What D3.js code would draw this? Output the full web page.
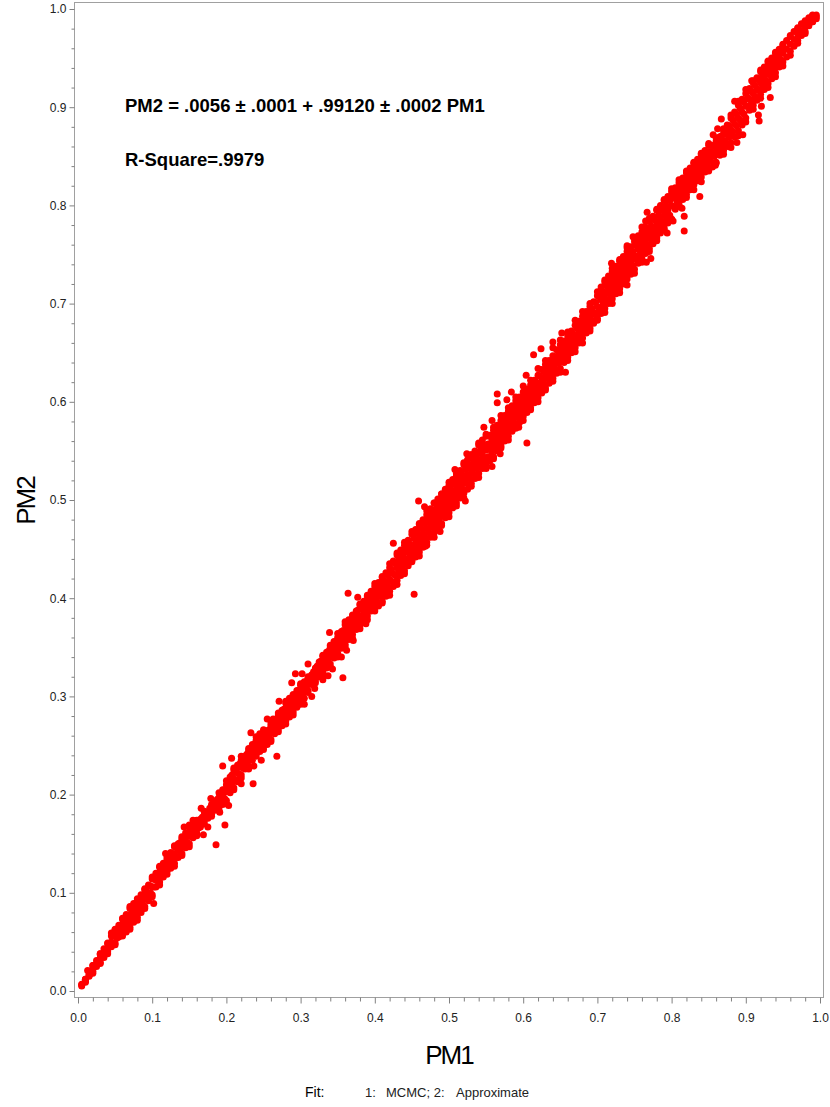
<!DOCTYPE html>
<html>
<head>
<meta charset="utf-8">
<script src="https://cdn.jsdelivr.net/npm/d3@7"></script>
<style>
  body { margin: 0; background: #fff; }
  text { font-family: "Liberation Sans", Arial, sans-serif; }
</style>
</head>
<body>
<svg width="830" height="1107"></svg>
<script>
// tick labels
const majorTicks = [0, 0.1, 0.2, 0.3, 0.4, 0.5, 0.6, 0.7, 0.8, 0.9, 1.0];
const minorTicks = [0.02, 0.04, 0.06, 0.08, 0.12, 0.14, 0.16, 0.18, 0.22, 0.24, 0.26, 0.28, 0.32, 0.34, 0.36, 0.38,
  0.42, 0.44, 0.46, 0.48, 0.52, 0.54, 0.56, 0.58, 0.62, 0.64, 0.66, 0.68, 0.72, 0.74, 0.76, 0.78,
  0.82, 0.84, 0.86, 0.88, 0.92, 0.94, 0.96, 0.98];

const bandPm1 = [
  .005,.010,.015,.020,.025,.030,.035,.040,.045,.050, .055,.060,.065,.070,.075,.080,.085,.090,.095,.100,
  .105,.110,.115,.120,.125,.130,.135,.140,.145,.150, .155,.160,.165,.170,.175,.180,.185,.190,.195,.200,
  .205,.210,.215,.220,.225,.230,.235,.240,.245,.250, .255,.260,.265,.270,.275,.280,.285,.290,.295,.300,
  .305,.310,.315,.320,.325,.330,.335,.340,.345,.350, .355,.360,.365,.370,.375,.380,.385,.390,.395,.400,
  .405,.410,.415,.420,.425,.430,.435,.440,.445,.450, .455,.460,.465,.470,.475,.480,.485,.490,.495,.500,
  .505,.510,.515,.520,.525,.530,.535,.540,.545,.550, .555,.560,.565,.570,.575,.580,.585,.590,.595,.600,
  .605,.610,.615,.620,.625,.630,.635,.640,.645,.650, .655,.660,.665,.670,.675,.680,.685,.690,.695,.700,
  .705,.710,.715,.720,.725,.730,.735,.740,.745,.750, .755,.760,.765,.770,.775,.780,.785,.790,.795,.800,
  .805,.810,.815,.820,.825,.830,.835,.840,.845,.850, .855,.860,.865,.870,.875,.880,.885,.890,.895,.900,
  .905,.910,.915,.920,.925,.930,.935,.940,.945,.950, .955,.960,.965,.970,.975,.980,.985,.990,.995];
const bandHigh = [
  .007,.012,.017,.026,.031,.037,.043,.048,.056,.062, .067,.073,.078,.084,.089,.092,.098,.103,.108,.114,
  .120,.126,.130,.134,.141,.147,.150,.155,.161,.167, .170,.172,.175,.179,.182,.188,.192,.197,.205,.210,
  .218,.225,.230,.235,.239,.245,.251,.255,.262,.264, .265,.270,.276,.281,.286,.293,.298,.301,.306,.311,
  .315,.318,.322,.328,.335,.341,.345,.350,.356,.360, .366,.373,.378,.382,.387,.393,.397,.402,.407,.412,
  .416,.421,.426,.431,.438,.444,.449,.454,.459,.465, .470,.475,.480,.485,.491,.497,.501,.506,.511,.515,
  .521,.525,.530,.536,.541,.546,.550,.556,.561,.565, .566,.571,.576,.581,.586,.590,.596,.601,.605,.610,
  .613,.617,.622,.627,.633,.638,.642,.647,.653,.658, .662,.667,.672,.678,.682,.687,.692,.697,.702,.708,
  .717,.722,.728,.733,.738,.743,.748,.753,.758,.763, .769,.773,.778,.784,.789,.795,.800,.805,.809,.814,
  .818,.823,.828,.833,.838,.843,.847,.852,.856,.861, .861,.865,.870,.876,.882,.889,.895,.902,.908,.914,
  .919,.925,.930,.936,.941,.946,.950,.955,.959,.964, .968,.972,.977,.981,.985,.988,.991,.994,.994];
const bandMid = [
  .006,.011,.016,.023,.028,.033,.038,.043,.050,.056, .061,.065,.070,.074,.079,.084,.089,.094,.099,.106,
  .113,.118,.123,.128,.133,.138,.143,.148,.153,.158, .162,.167,.171,.175,.179,.184,.189,.193,.198,.203,
  .210,.216,.222,.228,.233,.238,.243,.248,.252,.256, .258,.263,.268,.273,.278,.283,.288,.292,.297,.302,
  .307,.312,.317,.322,.327,.332,.337,.342,.347,.352, .357,.362,.367,.372,.377,.382,.387,.392,.397,.402,
  .404,.409,.414,.419,.425,.431,.436,.441,.447,.452, .456,.461,.466,.471,.476,.481,.486,.491,.496,.501,
  .506,.511,.516,.521,.526,.531,.536,.541,.546,.551, .553,.558,.563,.568,.573,.578,.583,.588,.593,.598,
  .601,.606,.611,.616,.621,.626,.631,.636,.641,.646, .651,.656,.661,.666,.671,.676,.681,.686,.691,.697,
  .704,.709,.714,.719,.724,.729,.734,.739,.744,.749, .755,.760,.765,.770,.775,.780,.785,.790,.795,.800,
  .807,.812,.817,.822,.827,.832,.836,.840,.845,.849, .850,.855,.861,.866,.872,.877,.883,.889,.895,.901,
  .908,.914,.919,.925,.930,.935,.940,.945,.950,.955, .959,.964,.969,.974,.978,.982,.987,.990,.992];
const bandLow = [
  .005,.010,.015,.020,.025,.029,.034,.040,.045,.049, .055,.058,.060,.065,.070,.075,.080,.086,.092,.098,
  .106,.111,.116,.122,.125,.130,.136,.140,.146,.150, .156,.161,.167,.171,.176,.180,.184,.187,.190,.194,
  .202,.207,.213,.220,.226,.229,.235,.241,.244,.249, .251,.256,.262,.267,.270,.275,.279,.284,.289,.294,
  .298,.306,.312,.317,.320,.324,.329,.333,.339,.344, .349,.353,.358,.363,.368,.373,.378,.382,.387,.391,
  .392,.397,.402,.407,.412,.418,.423,.428,.433,.439, .442,.447,.452,.457,.462,.467,.472,.476,.482,.487,
  .492,.497,.502,.507,.511,.517,.522,.527,.532,.537, .540,.544,.550,.555,.560,.565,.570,.575,.579,.585,
  .589,.594,.599,.604,.609,.614,.619,.624,.629,.634, .640,.645,.650,.655,.660,.665,.670,.675,.680,.685,
  .690,.695,.700,.705,.710,.715,.720,.725,.730,.735, .741,.746,.751,.756,.761,.767,.772,.777,.782,.786,
  .796,.801,.806,.811,.816,.821,.825,.829,.834,.838, .839,.844,.851,.856,.860,.864,.870,.876,.882,.889,
  .897,.902,.907,.913,.918,.924,.929,.935,.941,.946, .951,.957,.962,.968,.973,.977,.983,.987,.990];

// rows between those, half a column along
const innerPm1 = [
  .0525,.0575,.0625,.0675,.0725,.0775,.0825,.0875,.0925,.0975, .1025,.1075,.1125,.1175,.1225,.1275,.1325,.1375,.1425,.1475,
  .1525,.1575,.1625,.1675,.1725,.1775,.1825,.1875,.1925,.1975, .2025,.2075,.2125,.2175,.2225,.2275,.2325,.2375,.2425,.2475,
  .2525,.2575,.2625,.2675,.2725,.2775,.2825,.2875,.2925,.2975, .3025,.3075,.3125,.3175,.3225,.3275,.3325,.3375,.3425,.3475,
  .3525,.3575,.3625,.3675,.3725,.3775,.3825,.3875,.3925,.3975, .4025,.4075,.4125,.4175,.4225,.4275,.4325,.4375,.4425,.4475,
  .4525,.4575,.4625,.4675,.4725,.4775,.4825,.4875,.4925,.4975, .5025,.5075,.5125,.5175,.5225,.5275,.5325,.5375,.5425,.5475,
  .5525,.5575,.5625,.5675,.5725,.5775,.5825,.5875,.5925,.5975, .6025,.6075,.6125,.6175,.6225,.6275,.6325,.6375,.6425,.6475,
  .6525,.6575,.6625,.6675,.6725,.6775,.6825,.6875,.6925,.6975, .7025,.7075,.7125,.7175,.7225,.7275,.7325,.7375,.7425,.7475,
  .7525,.7575,.7625,.7675,.7725,.7775,.7825,.7875,.7925,.7975, .8025,.8075,.8125,.8175,.8225,.8275,.8325,.8375,.8425,.8475,
  .8525,.8575,.8625,.8675,.8725,.8775,.8825,.8875,.8925,.8975, .9025,.9075,.9125,.9175,.9225,.9275,.9325,.9375,.9425,.9475];
const innerUpper = [
  .062,.067,.072,.077,.082,.087,.091,.096,.101,.107, .114,.120,.125,.130,.135,.140,.146,.151,.156,.161,
  .165,.169,.173,.177,.181,.186,.191,.195,.200,.205, .213,.220,.225,.231,.236,.241,.246,.251,.256,.260,
  .262,.266,.272,.277,.281,.287,.292,.296,.301,.306, .311,.315,.319,.325,.331,.336,.341,.346,.351,.356,
  .361,.367,.372,.377,.382,.388,.392,.397,.402,.407, .409,.413,.418,.424,.429,.435,.440,.445,.450,.455,
  .461,.466,.471,.476,.481,.486,.491,.496,.501,.506, .511,.516,.521,.526,.531,.536,.541,.546,.551,.556,
  .557,.562,.567,.572,.577,.582,.587,.592,.597,.602, .605,.610,.615,.620,.626,.631,.636,.641,.646,.651,
  .654,.659,.664,.669,.675,.680,.685,.690,.695,.701, .707,.712,.718,.723,.728,.733,.738,.743,.748,.753,
  .759,.764,.769,.774,.779,.785,.790,.795,.800,.805, .810,.815,.820,.825,.830,.835,.839,.844,.848,.853,
  .855,.860,.866,.871,.876,.881,.887,.893,.899,.905, .910,.916,.922,.928,.933,.938,.943,.948,.953,.958];
const innerLower = [
  .054,.058,.063,.068,.073,.078,.083,.088,.094,.100, .106,.112,.116,.121,.127,.132,.136,.142,.147,.151,
  .157,.161,.166,.172,.176,.180,.185,.189,.192,.196, .204,.210,.215,.221,.227,.232,.237,.241,.246,.250,
  .253,.258,.264,.268,.273,.278,.283,.287,.292,.297, .302,.308,.314,.319,.323,.328,.333,.338,.343,.348,
  .352,.357,.362,.367,.372,.377,.382,.387,.392,.396, .397,.402,.407,.412,.417,.423,.428,.433,.438,.443,
  .447,.452,.457,.462,.467,.472,.477,.482,.487,.492, .497,.502,.507,.512,.517,.522,.527,.532,.537,.542,
  .544,.549,.554,.559,.564,.569,.574,.579,.584,.589, .594,.599,.604,.609,.614,.619,.624,.629,.634,.639,
  .643,.648,.653,.658,.663,.668,.673,.678,.683,.689, .694,.699,.704,.709,.714,.719,.724,.729,.734,.739,
  .745,.750,.755,.760,.765,.770,.775,.780,.785,.790, .799,.804,.809,.814,.819,.824,.828,.832,.837,.841,
  .845,.850,.856,.861,.865,.870,.875,.881,.887,.893, .901,.906,.911,.917,.922,.927,.933,.938,.943,.948];

// lumpy outer edges of the band
const edgePm1 = [
  .01,.02,.03,.04,.05,.06,.07,.08,.09,.10, .11,.12,.13,.14,.15,.16,.17,.18,.19,.20,
  .21,.22,.23,.24,.25,.26,.27,.28,.29,.30, .31,.32,.33,.34,.35,.36,.37,.38,.39,.40,
  .41,.42,.43,.44,.45,.46,.47,.48,.49,.50, .51,.52,.53,.54,.55,.56,.57,.58,.59,.60,
  .61,.62,.63,.64,.65,.66,.67,.68,.69,.70, .71,.72,.73,.74,.75,.76,.77,.78,.79,.80,
  .81,.82,.83,.84,.85,.86,.87,.88,.89,.90, .91,.92,.93,.94,.95,.96,.97,.98,.99];
const edgeHigh = [
  .012,.026,.038,.049,.063,.074,.086,.094,.104,.116, .127,.136,.148,.157,.169,.174,.183,.190,.202,.214,
  .227,.239,.247,.259,.266,.273,.283,.295,.302,.313, .320,.329,.342,.352,.364,.376,.383,.394,.403,.415,
  .422,.435,.446,.457,.468,.476,.489,.497,.506,.518, .527,.538,.546,.558,.567,.574,.586,.594,.605,.616,
  .622,.634,.642,.655,.663,.671,.683,.692,.700,.712, .724,.736,.745,.757,.766,.778,.787,.796,.806,.817,
  .826,.835,.844,.853,.863,.869,.878,.892,.906,.918, .927,.938,.947,.956,.963,.973,.980,.987,.993];
const edgeLow = [
  .009,.018,.028,.038,.047,.056,.063,.072,.084,.096, .108,.119,.127,.138,.147,.158,.170,.178,.184,.191,
  .205,.217,.226,.239,.246,.254,.264,.272,.281,.292, .304,.314,.321,.330,.340,.351,.359,.369,.378,.387,
  .395,.403,.414,.425,.437,.443,.454,.462,.474,.483, .494,.502,.514,.523,.532,.542,.553,.561,.573,.581,
  .592,.600,.612,.621,.630,.642,.651,.660,.672,.683, .691,.700,.711,.719,.731,.742,.753,.764,.775,.786,
  .799,.808,.816,.824,.835,.843,.852,.859,.871,.885, .898,.909,.920,.931,.942,.953,.965,.975,.987];

// dots standing off the band
const strayPm1 = [
  .933,.921,.918,.917,.888,.896,.908,.885,.867,.862,.856,.859,.838,.817,.817,.814,.767,.765,.802,.794,
  .740,.748,.772,.766,.719,.364,.377,.453,.425,.459,.467,.488,.508,.524,.547,.558,.565,.565,.578,.584,
  .604,.614,.624,.605,.657,.640,.652,.558,.522,.468,.594,.569,.339,.371,.362,.388,.357,.337,.330,.343,
  .355,.310,.293,.302,.288,.271,.255,.263,.233,.207,.195,.268,.247,.237,.236,.220,.198,.186,.155,.166,
  .179,.203,.191,.143,.175,.169,.118,.315,.305,.319,.288,.045,.030,.013,.102];
const strayPm2 = [
  .910,.901,.886,.892,.864,.872,.927,.906,.888,.878,.872,.841,.809,.789,.774,.797,.793,.784,.784,.772,
  .759,.768,.746,.742,.741,.405,.401,.404,.456,.499,.493,.468,.531,.547,.574,.581,.608,.599,.602,.610,
  .627,.648,.654,.558,.630,.661,.670,.534,.499,.453,.574,.547,.365,.357,.347,.374,.319,.321,.317,.328,
  .340,.333,.323,.323,.314,.295,.277,.277,.263,.237,.229,.239,.235,.229,.211,.211,.169,.149,.174,.186,
  .196,.189,.182,.167,.167,.159,.140,.300,.292,.308,.282,.059,.038,.021,.089];

const svg = d3.select("svg");

const x = d3.scaleLinear().domain([0, 1]).range([78, 820]);
const y = d3.scaleLinear().domain([0, 1]).range([991, 9]);

const frame = { left: 74.5, right: 823.5, top: 2.5, bottom: 997.5 };
const axisColor = "#808080";
const textColor = "#222";

// points go down first, frame and text on top
const points = [];
bandPm1.forEach((d, i) => {
  points.push([d, bandHigh[i]], [d, bandMid[i]], [d, bandLow[i]]);
});
innerPm1.forEach((d, i) => {
  points.push([d, innerUpper[i]], [d, innerLower[i]]);
});
edgePm1.forEach((d, i) => {
  points.push([d, edgeHigh[i]], [d, edgeLow[i]]);
});
strayPm1.forEach((d, i) => points.push([d, strayPm2[i]]));

svg.append("g")
  .attr("fill", "#ff0000")
  .selectAll("circle")
  .data(points)
  .join("circle")
  .attr("cx", d => x(d[0]))
  .attr("cy", d => y(d[1]))
  .attr("r", 3.5);

svg.append("rect")
  .attr("x", frame.left)
  .attr("y", frame.top)
  .attr("width", frame.right - frame.left)
  .attr("height", frame.bottom - frame.top)
  .attr("fill", "none")
  .attr("stroke", "#a0a0a0");

// осі
function styleAxis(g) {
  g.select(".domain").remove();
  g.selectAll("line").attr("stroke", axisColor);
  g.selectAll("text").attr("fill", textColor).attr("font-size", 12);
}

svg.append("g")
  .attr("transform", `translate(0, ${frame.bottom})`)
  .call(d3.axisBottom(x).tickValues(minorTicks).tickSize(4).tickFormat(""))
  .call(styleAxis);
svg.append("g")
  .attr("transform", `translate(0, ${frame.bottom})`)
  .call(d3.axisBottom(x).tickValues(majorTicks).tickSize(6).tickPadding(10).tickFormat(d3.format(".1f")))
  .call(styleAxis);

svg.append("g")
  .attr("transform", `translate(${frame.left}, 0)`)
  .call(d3.axisLeft(y).tickValues(minorTicks).tickSize(3).tickFormat(""))
  .call(styleAxis);
svg.append("g")
  .attr("transform", `translate(${frame.left}, 0)`)
  .call(d3.axisLeft(y).tickValues(majorTicks).tickSize(5).tickPadding(3).tickFormat(d3.format(".1f")))
  .call(styleAxis);

// подписи
svg.append("text").attr("x", 449).attr("y", 1064)
  .attr("text-anchor", "middle").attr("font-size", 26).attr("letter-spacing", -2)
  .text("PM1");
svg.append("text")
  .attr("transform", "translate(35, 501) rotate(-90)")
  .attr("text-anchor", "middle").attr("font-size", 26).attr("letter-spacing", -2)
  .text("PM2");

svg.append("text").attr("x", 125).attr("y", 112)
  .attr("font-size", 18.5).attr("font-weight", "bold")
  .text("PM2 = .0056 ± .0001 + .99120 ± .0002 PM1");
svg.append("text").attr("x", 125).attr("y", 166)
  .attr("font-size", 18.5).attr("font-weight", "bold")
  .text("R-Square=.9979");

svg.append("text").attr("x", 305).attr("y", 1097).attr("font-size", 14).text("Fit:");
svg.append("text").attr("x", 365).attr("y", 1097).attr("font-size", 13).attr("fill", textColor).text("1:");
svg.append("text").attr("x", 386).attr("y", 1097).attr("font-size", 13).attr("fill", textColor).text("MCMC; 2:");
svg.append("text").attr("x", 456).attr("y", 1097).attr("font-size", 13).attr("fill", textColor).text("Approximate");
</script>
</body>
</html>
